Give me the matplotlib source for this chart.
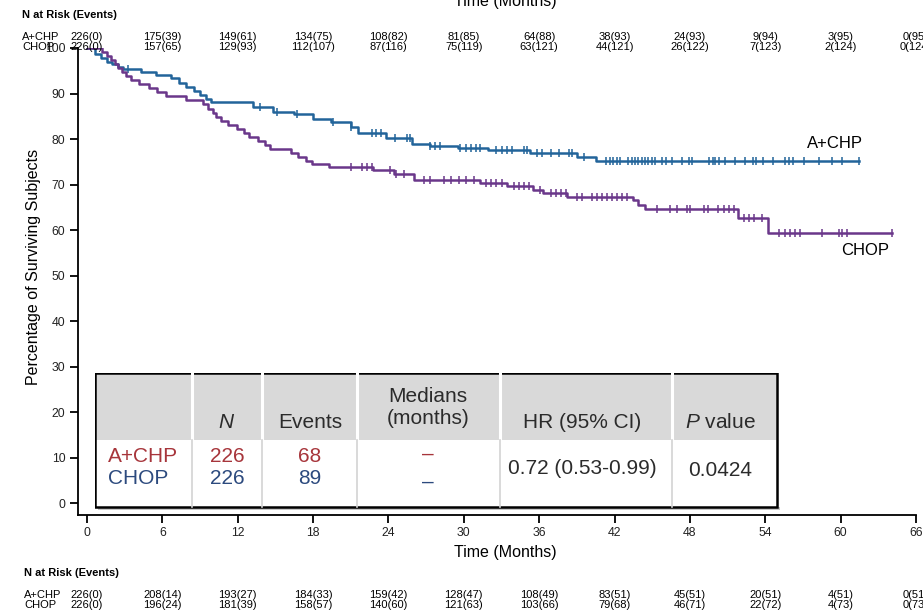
import numpy as np
import matplotlib
matplotlib.use("Agg")
import matplotlib.pyplot as plt
from matplotlib import font_manager, transforms
from matplotlib.patches import Rectangle

# ---------------- data ----------------
arm_names = ["A+CHP", "CHOP"]

# Kaplan-Meier steps: (time in months, survival % after the event)
achp_event_t = [0.6, 1.1, 1.6, 2.0, 2.5, 2.9, 4.3, 5.5, 6.7, 7.3, 7.9, 8.5, 9.0, 9.5, 9.9,
                13.2, 14.8, 16.5, 18.0, 19.4, 21.0, 21.6, 23.8, 25.9, 27.3, 29.5, 31.9,
                35.3, 39.0, 40.5]
achp_event_s = [98.7, 97.8, 97.0, 96.4, 95.8, 95.4, 94.7, 94.1, 93.3, 92.4, 91.5, 90.6, 89.7,
                88.9, 88.2, 87.1, 86.0, 85.4, 84.5, 83.8, 82.7, 81.4, 80.2, 79.0, 78.5, 78.0,
                77.6, 76.9, 76.0, 75.1]
achp_last_t = 61.5

chop_event_t = [1.2, 1.6, 1.9, 2.2, 2.5, 2.8, 3.1, 3.5, 4.1, 4.9, 5.6, 6.3, 7.9, 9.2, 9.6,
                10.0, 10.3, 10.7, 11.2, 11.9, 12.5, 12.9, 13.6, 14.2, 14.6, 16.2, 16.8, 17.4,
                17.9, 19.3, 22.8, 24.4, 26.0, 31.3, 33.4, 35.5, 36.3, 38.2, 43.5, 43.9, 44.4,
                51.8, 54.2]
chop_event_s = [99.1, 98.2, 97.3, 96.5, 95.6, 94.7, 93.8, 92.9, 92.0, 91.2, 90.3, 89.4, 88.5,
                87.6, 86.7, 85.8, 84.9, 84.0, 83.1, 82.2, 81.3, 80.4, 79.5, 78.7, 77.8, 76.9,
                76.0, 75.1, 74.5, 73.8, 73.2, 72.4, 70.9, 70.3, 69.7, 68.9, 68.1, 67.3, 66.5,
                65.6, 64.6, 62.6, 59.4]
chop_last_t = 64.1

# censoring times (months)
achp_censor = [3.3, 13.8, 15.1, 16.7, 19.6, 21.0, 22.7, 23.0, 23.4, 24.5, 25.5, 25.7, 27.3,
               27.7, 28.1, 29.7, 30.2, 30.6, 31.0, 31.3, 32.6, 33.0, 33.4, 33.8, 34.8, 35.0,
               35.8, 36.2, 36.9, 37.6, 38.4, 38.6, 39.6, 41.3, 41.6, 41.9, 42.2, 42.4, 43.1,
               43.4, 43.6, 43.9, 44.2, 44.4, 44.7, 45.0, 45.2, 45.8, 46.1, 46.6, 47.4, 47.9,
               48.2, 49.5, 49.8, 50.0, 50.3, 50.8, 51.6, 52.4, 53.0, 53.3, 53.8, 54.6, 55.6,
               55.9, 56.2, 57.1, 58.3, 59.3, 60.1, 61.5]
chop_censor = [21.0, 21.9, 22.3, 22.7, 24.1, 24.6, 25.2, 26.8, 27.3, 28.4, 29.0, 29.6, 30.2,
               30.8, 31.8, 32.2, 32.6, 33.0, 34.0, 34.4, 34.8, 35.2, 36.1, 36.9, 37.3, 37.7,
               38.1, 39.0, 39.4, 40.2, 40.6, 41.0, 41.4, 41.8, 42.2, 42.6, 43.0, 45.4, 46.4,
               47.0, 47.8, 48.0, 49.1, 49.4, 50.2, 50.7, 51.1, 51.5, 52.3, 52.7, 53.1, 53.7,
               55.1, 55.6, 56.0, 56.4, 56.8, 58.5, 59.9, 60.1, 60.5, 64.1]

# number at risk tables
risk_months = [0, 6, 12, 18, 24, 30, 36, 42, 48, 54, 60, 66]
top_risk_achp = ["226(0)", "175(39)", "149(61)", "134(75)", "108(82)", "81(85)", "64(88)",
                 "38(93)", "24(93)", "9(94)", "3(95)", "0(95)"]
top_risk_chop = ["226(0)", "157(65)", "129(93)", "112(107)", "87(116)", "75(119)", "63(121)",
                 "44(121)", "26(122)", "7(123)", "2(124)", "0(124)"]
bot_risk_achp = ["226(0)", "208(14)", "193(27)", "184(33)", "159(42)", "128(47)", "108(49)",
                 "83(51)", "45(51)", "20(51)", "4(51)", "0(51)"]
bot_risk_chop = ["226(0)", "196(24)", "181(39)", "158(57)", "140(60)", "121(63)", "103(66)",
                 "79(68)", "46(71)", "22(72)", "4(73)", "0(73)"]

# summary table
tbl_n = [226, 226]
tbl_events = [68, 89]
tbl_median = ["\u2013", "\u2013"]
tbl_hr = "0.72 (0.53-0.99)"
tbl_p = "0.0424"

x_ticks = list(range(0, 67, 6))
y_ticks = list(range(0, 101, 10))

# ---------------- style ----------------
W, H = 923, 613
BLUE = "#22649a"
PURPLE = "#6a378a"
RED_TXT = "#a7353b"
NAVY_TXT = "#2c4a7e"


def have_font(name):
    try:
        font_manager.findfont(name, fallback_to_default=False)
        return True
    except Exception:
        return False


BASE = "Liberation Sans" if have_font("Liberation Sans") else "DejaVu Sans"
NARROW = "Liberation Sans Narrow" if have_font("Liberation Sans Narrow") else BASE
TBL_SIZE = 17.5 if NARROW != BASE else 15

plt.rcParams["font.family"] = [BASE, "DejaVu Sans"]
plt.rcParams["mathtext.fontset"] = "custom"
plt.rcParams["mathtext.it"] = NARROW + ":italic"
plt.rcParams["mathtext.rm"] = NARROW


def fx(px):
    return px / W


def fy(py):
    return 1 - py / H


fig = plt.figure(figsize=(W / 100, H / 100), dpi=100)
ax = fig.add_axes([fx(78), fy(515), fx(916) - fx(78), fy(48) - fy(515)])


def km_curve(times, surv, last):
    t = [0.0] + list(times) + [last]
    s = [100.0] + list(surv) + [surv[-1]]
    return np.array(t), np.array(s)


def surv_at(times, surv, tc):
    idx = np.searchsorted(np.array(times), np.array(tc), side="right")
    full = np.concatenate([[100.0], np.array(surv)])
    return full[idx]


for et, es, last, cens, col in [
    (achp_event_t, achp_event_s, achp_last_t, achp_censor, BLUE),
    (chop_event_t, chop_event_s, chop_last_t, chop_censor, PURPLE),
]:
    t, s = km_curve(et, es, last)
    ax.step(t, s, where="post", color=col, lw=1.8, zorder=3)
    ax.plot(cens, surv_at(et, es, cens), ls="none", marker="|", ms=6, mew=1.1,
            color=col, zorder=3)

ax.set_xlim(-0.72, 66)
ax.set_ylim(-2.6, 100)
ax.set_xticks(x_ticks)
ax.set_yticks(y_ticks)
for sp in ["top", "right"]:
    ax.spines[sp].set_visible(False)
for sp in ["left", "bottom"]:
    ax.spines[sp].set_linewidth(1.3)
ax.tick_params(direction="out", length=6, width=1.3, labelsize=8.8, pad=3,
               labelcolor="#222222")
ax.set_xlabel("Time (Months)", fontsize=11.5)
ax.xaxis.set_label_coords((505 - 78) / (916 - 78), (515 - 545) / (515 - 48))
ax.set_ylabel("Percentage of Surviving Subjects", fontsize=11.5)
ax.yaxis.set_label_coords((41 - 78) / (916 - 78), (515 - 267) / (515 - 48))

# curve labels
fig.text(fx(835), fy(143), arm_names[0], ha="center", va="center", fontsize=12)
fig.text(fx(865), fy(250), arm_names[1], ha="center", va="center", fontsize=12)

# number-at-risk blocks (x from the data axis, y in figure pixels)
blend = transforms.blended_transform_factory(ax.transData, fig.transFigure)


def risk_block(y_head, y_a, y_c, vals_a, vals_c, x_lab):
    fig.text(fx(x_lab), fy(y_head), "N at Risk (Events)", fontsize=8, fontweight="bold",
             ha="left", va="center")
    fig.text(fx(x_lab), fy(y_a), arm_names[0], fontsize=8, ha="left", va="center")
    fig.text(fx(x_lab), fy(y_c), arm_names[1], fontsize=8, ha="left", va="center")
    for m, a, c in zip(risk_months, vals_a, vals_c):
        ax.text(m, fy(y_a), a, transform=blend, fontsize=8, ha="center", va="center",
                clip_on=False)
        ax.text(m, fy(y_c), c, transform=blend, fontsize=8, ha="center", va="center",
                clip_on=False)


risk_block(15, 37, 47, top_risk_achp, top_risk_chop, 22)
risk_block(573, 595, 605, bot_risk_achp, bot_risk_chop, 24)

# repeated axis title partly above the canvas
fig.text(fx(505), fy(6), "Time (Months)", fontsize=11.5, ha="center", va="baseline")

# ---------------- summary table ----------------
L, R, T, B = 95, 777, 373, 507
HEAD_B = 440
col_edges = [95, 192, 262, 357, 500, 672, 777]
tab = fig.add_axes([fx(L), fy(B + 4), fx(R + 4) - fx(L), fy(T) - fy(B + 4)])
tab.set_xlim(L, R + 4)
tab.set_ylim(B + 4, T)
tab.axis("off")

tab.add_patch(Rectangle((L + 3, B), R - L, 3, facecolor="#c8c8c8", edgecolor="none"))
tab.add_patch(Rectangle((L, T), R - L, B - T, facecolor="white", edgecolor="none"))
tab.add_patch(Rectangle((L, T), R - L, HEAD_B - T, facecolor="#d9d9d9", edgecolor="none"))
for xe in col_edges[1:-1]:
    tab.plot([xe, xe], [T, HEAD_B], color="white", lw=2.2)
    tab.plot([xe, xe], [HEAD_B, B], color="#d3d3d3", lw=1.2)
tab.add_patch(Rectangle((L, T), R - L, B - T, facecolor="none", edgecolor="black", lw=1.8))

hdr = dict(fontsize=TBL_SIZE, family=NARROW, color="#2b2b2b", ha="center", va="center")
tab.text(227, 422, "$N$", **hdr)
tab.text(310, 422, "Events", **hdr)
tab.text(428, 397, "Medians", **hdr)
tab.text(428, 419, "(months)", **hdr)
tab.text(582, 422, "HR (95% CI)", **hdr)
tab.text(720, 422, "$P$ value", **hdr)

body = dict(fontsize=TBL_SIZE, family=NARROW, va="center")
row_y = [457, 479]
for i, (colr, yy) in enumerate(zip([RED_TXT, NAVY_TXT], row_y)):
    tab.text(108, yy, arm_names[i], color=colr, ha="left", **body)
    tab.text(227, yy, str(tbl_n[i]), color=colr, ha="center", **body)
    tab.text(310, yy, str(tbl_events[i]), color=colr, ha="center", **body)
    tab.text(428, yy - 3 if i == 0 else yy + 3, tbl_median[i], color=colr, ha="center", **body)
tab.text(582, 468, tbl_hr, color="#2b2b2b", ha="center", **body)
tab.text(720, 470, tbl_p, color="#2b2b2b", ha="center", **body)

fig.savefig("out.png", dpi=100)
